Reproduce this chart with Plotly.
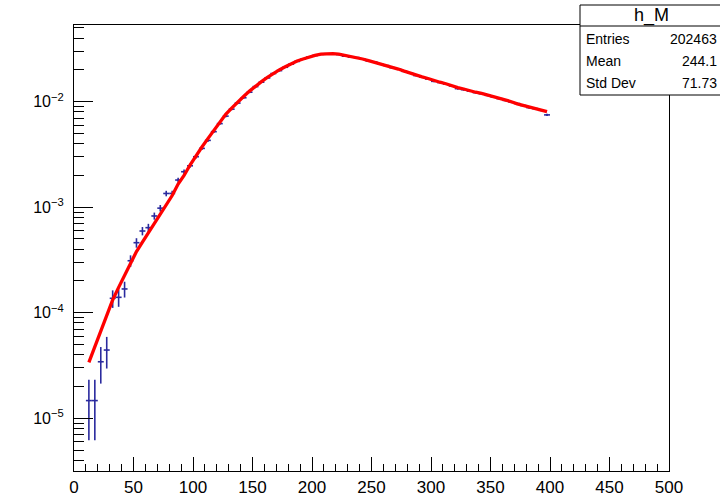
import plotly.graph_objects as go

# Histogram h_M: bin centres (5-unit bins from 10 to 400), normalised contents and errors
bin_centers = [12.5 + 5 * i for i in range(78)]
bin_half_width = 2.5

counts = [
    1.47e-5, 1.47e-5, 3.43e-5, 4.43e-5, 1.37e-4, 1.40e-4, 1.68e-4, 3.11e-4,
    4.61e-4, 5.95e-4, 6.40e-4, 8.26e-4, 9.80e-4, 1.35e-3, 1.35e-3, 1.81e-3,
    2.17e-3, 2.47e-3, 3.01e-3, 3.61e-3, 4.30e-3, 5.20e-3, 6.20e-3, 7.30e-3,
    8.50e-3, 9.70e-3, 1.09e-2, 1.23e-2, 1.39e-2, 1.53e-2, 1.68e-2, 1.85e-2,
    1.97e-2, 2.12e-2, 2.27e-2, 2.41e-2, 2.53e-2, 2.65e-2, 2.74e-2, 2.81e-2,
    2.85e-2, 2.84e-2, 2.80e-2, 2.70e-2, 2.64e-2, 2.62e-2, 2.54e-2, 2.43e-2,
    2.38e-2, 2.27e-2, 2.20e-2, 2.10e-2, 2.04e-2, 1.94e-2, 1.87e-2, 1.77e-2,
    1.71e-2, 1.64e-2, 1.56e-2, 1.52e-2, 1.47e-2, 1.41e-2, 1.33e-2, 1.30e-2,
    1.26e-2, 1.22e-2, 1.19e-2, 1.15e-2, 1.11e-2, 1.07e-2, 1.03e-2, 9.90e-3,
    9.60e-3, 9.20e-3, 8.80e-3, 8.60e-3, 8.30e-3, 7.50e-3,
]

errors = [
    8.5e-6, 8.5e-6, 1.30e-5, 1.47e-5, 2.59e-5, 2.62e-5, 2.87e-5, 3.90e-5,
    4.75e-5, 5.40e-5, 5.60e-5, 6.36e-5, 6.93e-5, 8.13e-5, 8.13e-5, 9.42e-5,
    1.03e-4, 1.10e-4, 1.21e-4, 1.33e-4, 1.45e-4, 1.60e-4, 1.74e-4, 1.89e-4,
    2.04e-4, 2.18e-4, 2.31e-4, 2.45e-4, 2.60e-4, 2.74e-4, 2.87e-4, 3.01e-4,
    3.10e-4, 3.20e-4, 3.30e-4, 3.40e-4, 3.50e-4, 3.60e-4, 3.70e-4, 3.70e-4,
    3.70e-4, 3.70e-4, 3.70e-4, 3.60e-4, 3.60e-4, 3.60e-4, 3.50e-4, 3.45e-4,
    3.40e-4, 3.35e-4, 3.30e-4, 3.20e-4, 3.15e-4, 3.10e-4, 3.00e-4, 2.95e-4,
    2.90e-4, 2.85e-4, 2.75e-4, 2.70e-4, 2.70e-4, 2.60e-4, 2.55e-4, 2.50e-4,
    2.50e-4, 2.45e-4, 2.40e-4, 2.40e-4, 2.35e-4, 2.30e-4, 2.25e-4, 2.20e-4,
    2.15e-4, 2.10e-4, 2.10e-4, 2.05e-4, 2.00e-4, 1.90e-4,
]

# Fitted function sampled at the bin centres
fit_values = [
    3.39e-5, 4.79e-5, 6.61e-5, 9.33e-5, 1.32e-4, 1.74e-4, 2.24e-4, 2.95e-4,
    3.80e-4, 4.68e-4, 5.75e-4, 7.08e-4, 8.51e-4, 1.05e-3, 1.29e-3, 1.66e-3,
    2.00e-3, 2.51e-3, 3.09e-3, 3.72e-3, 4.47e-3, 5.37e-3, 6.46e-3, 7.59e-3,
    8.71e-3, 1.00e-2, 1.12e-2, 1.26e-2, 1.41e-2, 1.55e-2, 1.70e-2, 1.86e-2,
    2.00e-2, 2.14e-2, 2.29e-2, 2.43e-2, 2.54e-2, 2.66e-2, 2.75e-2, 2.82e-2,
    2.85e-2, 2.85e-2, 2.82e-2, 2.75e-2, 2.69e-2, 2.63e-2, 2.54e-2, 2.45e-2,
    2.37e-2, 2.29e-2, 2.21e-2, 2.11e-2, 2.04e-2, 1.95e-2, 1.86e-2, 1.79e-2,
    1.72e-2, 1.66e-2, 1.58e-2, 1.53e-2, 1.48e-2, 1.41e-2, 1.36e-2, 1.32e-2,
    1.27e-2, 1.23e-2, 1.20e-2, 1.16e-2, 1.12e-2, 1.07e-2, 1.04e-2, 1.00e-2,
    9.55e-3, 9.23e-3, 8.91e-3, 8.61e-3, 8.32e-3, 8.04e-3,
]

stats_title = "h_M"
stats_labels = ["Entries", "Mean", "Std Dev"]
stats_values = ["202463", "244.1", "71.73"]

y_tick_vals = [1e-5, 1e-4, 1e-3, 1e-2]
y_tick_text = ["10<sup>\u22125</sup>", "10<sup>\u22124</sup>", "10<sup>\u22123</sup>", "10<sup>\u22122</sup>"]
# minor log ticks: 2..9 times each decade inside the axis range
y_minor_vals = [m * 10.0 ** e for e in range(-6, -1) for m in range(2, 10)
                if 10 ** -5.5 <= m * 10.0 ** e <= 10 ** -1.273]

W, H = 720, 495
ML, MR, MT, MB = 74, 51, 25, 24
FONT = "Liberation Sans, Arial, Helvetica, sans-serif"
Y_RANGE = [-5.5, -1.273]


def px(x):
    return (x - ML) / (W - ML - MR)


def py(y):
    return (H - MB - y) / (H - MT - MB)


fig = go.Figure()

fig.add_trace(go.Scatter(
    x=bin_centers, y=counts, mode="markers",
    marker=dict(size=1, color="#2a2a9e"),
    error_x=dict(type="constant", value=bin_half_width, width=0, thickness=1.6, color="#2a2a9e"),
    error_y=dict(type="data", array=errors, width=0, thickness=1.6, color="#2a2a9e"),
    showlegend=False, hoverinfo="skip",
))

fig.add_trace(go.Scatter(
    x=bin_centers, y=fit_values, mode="lines",
    line=dict(color="#ff0000", width=3.3),
    showlegend=False, hoverinfo="skip",
))

# invisible trace binding the minor-tick axis
fig.add_trace(go.Scatter(x=[None], y=[None], yaxis="y2", showlegend=False, hoverinfo="skip"))

# Statistics box in the top-right corner
box_l, box_t, box_r, box_b, head_b = 580, 5, 722, 95, 26
fig.add_shape(type="rect", xref="paper", yref="paper",
              x0=px(box_l), x1=px(box_r), y0=py(box_b), y1=py(box_t),
              line=dict(color="black", width=1), fillcolor="white", layer="above")
fig.add_shape(type="line", xref="paper", yref="paper",
              x0=px(box_l), x1=px(box_r), y0=py(head_b), y1=py(head_b),
              line=dict(color="black", width=1), layer="above")
fig.add_annotation(xref="paper", yref="paper", x=px(651), y=py(15.5),
                   text=stats_title, showarrow=False, xanchor="center", yanchor="middle",
                   font=dict(family=FONT, size=18, color="black"))
for i, (lab, val) in enumerate(zip(stats_labels, stats_values)):
    yy = py(39 + 22 * i)
    fig.add_annotation(xref="paper", yref="paper", x=px(584), y=yy, text=lab,
                       showarrow=False, xanchor="left", yanchor="middle",
                       font=dict(family=FONT, size=14, color="black"))
    fig.add_annotation(xref="paper", yref="paper", x=px(719), y=yy, text=val,
                       showarrow=False, xanchor="right", yanchor="middle",
                       font=dict(family=FONT, size=14, color="black"))

fig.update_layout(
    width=W, height=H,
    margin=dict(l=ML, r=MR, t=MT, b=MB, pad=0, autoexpand=False),
    paper_bgcolor="white", plot_bgcolor="white",
    font=dict(family=FONT, color="black"),
    xaxis=dict(
        range=[0, 500], tickmode="linear", tick0=0, dtick=50,
        ticks="inside", ticklen=14, tickwidth=1.2, tickcolor="black",
        minor=dict(dtick=10, ticks="inside", ticklen=7, tickwidth=1.2, tickcolor="black", showgrid=False),
        showline=True, linecolor="black", linewidth=1.2, mirror=True,
        showgrid=False, zeroline=False, automargin=False,
        tickfont=dict(family=FONT, size=17),
    ),
    yaxis=dict(
        type="log", range=Y_RANGE,
        tickmode="array", tickvals=y_tick_vals, ticktext=y_tick_text,
        ticks="inside", ticklen=19, tickwidth=1.2, tickcolor="black",
        showline=True, linecolor="black", linewidth=1.2, mirror=True,
        showgrid=False, zeroline=False, automargin=False,
        tickfont=dict(family=FONT, size=16),
        ticklabelstandoff=6,
    ),
    # overlay axis carrying only the short minor ticks
    yaxis2=dict(
        type="log", range=Y_RANGE, overlaying="y", side="left",
        tickmode="array", tickvals=y_minor_vals, ticktext=[""] * len(y_minor_vals),
        ticks="inside", ticklen=10, tickwidth=1.2, tickcolor="black",
        showline=False, showgrid=False, zeroline=False, automargin=False,
        showticklabels=False,
    ),
)

fig.write_html("out.html")
